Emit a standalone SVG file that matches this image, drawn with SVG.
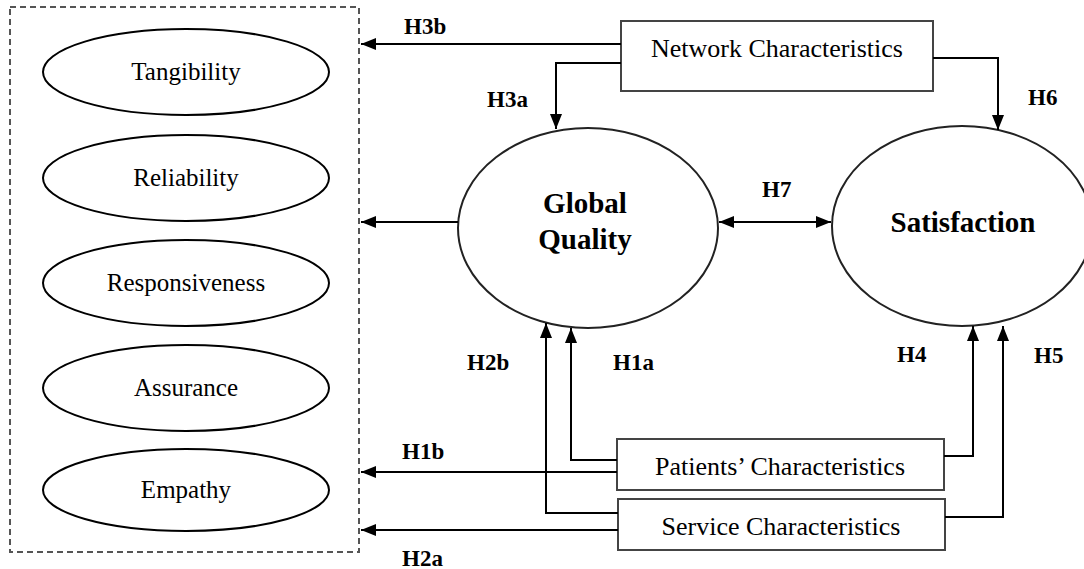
<svg xmlns="http://www.w3.org/2000/svg" width="1084" height="569" viewBox="0 0 1084 569">
<defs>
<marker id="ah" markerUnits="userSpaceOnUse" markerWidth="15" markerHeight="12" refX="15" refY="6" orient="auto-start-reverse">
<path d="M0,0 L15,6 L0,12 z" fill="#000"/>
</marker>
</defs>
<style>
.ell{fill:#fff;stroke:#000;stroke-width:2}
.big{fill:#fff;stroke:#222;stroke-width:2}
.box{fill:#fff;stroke:#444;stroke-width:2}
.dash{fill:none;stroke:#555;stroke-width:2;stroke-dasharray:6 4}
.t{font-family:"Liberation Serif","Times New Roman",serif;font-size:25px;fill:#000;text-anchor:middle}
.bt{font-family:"Liberation Serif","Times New Roman",serif;font-size:26px;fill:#000;text-anchor:middle}
.b{font-family:"Liberation Serif","Times New Roman",serif;font-size:29px;font-weight:bold;fill:#000;text-anchor:middle}
.h{font-family:"Liberation Serif","Times New Roman",serif;font-size:23px;font-weight:bold;fill:#000}
.c{fill:none;stroke:#000;stroke-width:2}
</style>
<g id="dimensions">
<rect class="dash" x="10" y="7" width="349" height="545"/>
</g>
<g id="tangibility"><ellipse class="ell" cx="186" cy="72" rx="143" ry="43"/><text class="t" x="186" y="80">Tangibility</text></g>
<g id="reliability"><ellipse class="ell" cx="186" cy="178" rx="143" ry="43"/><text class="t" x="186" y="186">Reliability</text></g>
<g id="responsiveness"><ellipse class="ell" cx="186" cy="283" rx="143" ry="43"/><text class="t" x="186" y="291">Responsiveness</text></g>
<g id="assurance"><ellipse class="ell" cx="186" cy="388" rx="143" ry="43"/><text class="t" x="186" y="396">Assurance</text></g>
<g id="empathy"><ellipse class="ell" cx="186" cy="490" rx="143" ry="41"/><text class="t" x="186" y="498">Empathy</text></g>
<g id="global-quality"><ellipse class="big" cx="588" cy="228" rx="130" ry="100"/><text class="b" x="585" y="213">Global</text><text class="b" x="585" y="249">Quality</text></g>
<g id="satisfaction"><ellipse class="big" cx="962" cy="226" rx="130" ry="100"/><text class="b" x="963" y="232">Satisfaction</text></g>
<g id="network"><rect class="box" x="621" y="21" width="312" height="70"/><text class="bt" x="777" y="57">Network Characteristics</text></g>
<g id="patients"><rect class="box" x="617" y="439" width="327" height="51"/><text class="bt" x="780" y="475">Patients’ Characteristics</text></g>
<g id="service"><rect class="box" x="618" y="499" width="327" height="51"/><text class="bt" x="781" y="535">Service Characteristics</text></g>
<g id="connectors">
<path class="c" d="M621,44 H361" marker-end="url(#ah)"/>
<path class="c" d="M621,63 H556 V129" marker-end="url(#ah)"/>
<path class="c" d="M933,58 H998 V130" marker-end="url(#ah)"/>
<path class="c" d="M458,222 H361" marker-end="url(#ah)"/>
<path class="c" d="M719,222 H831" marker-start="url(#ah)" marker-end="url(#ah)"/>
<path class="c" d="M617,460 H571 V328" marker-end="url(#ah)"/>
<path class="c" d="M617,472 H361" marker-end="url(#ah)"/>
<path class="c" d="M944,456 H973 V326" marker-end="url(#ah)"/>
<path class="c" d="M618,513 H546 V323" marker-end="url(#ah)"/>
<path class="c" d="M618,530 H361" marker-end="url(#ah)"/>
<path class="c" d="M945,517 H1003 V326" marker-end="url(#ah)"/>
</g>
<g id="labels">
<text class="h" x="404" y="34">H3b</text>
<text class="h" x="487" y="107">H3a</text>
<text class="h" x="1028" y="105">H6</text>
<text class="h" x="762" y="197">H7</text>
<text class="h" x="467" y="370">H2b</text>
<text class="h" x="613" y="370">H1a</text>
<text class="h" x="897" y="362">H4</text>
<text class="h" x="1034" y="363">H5</text>
<text class="h" x="402" y="459">H1b</text>
<text class="h" x="402" y="566">H2a</text>
</g>
</svg>
